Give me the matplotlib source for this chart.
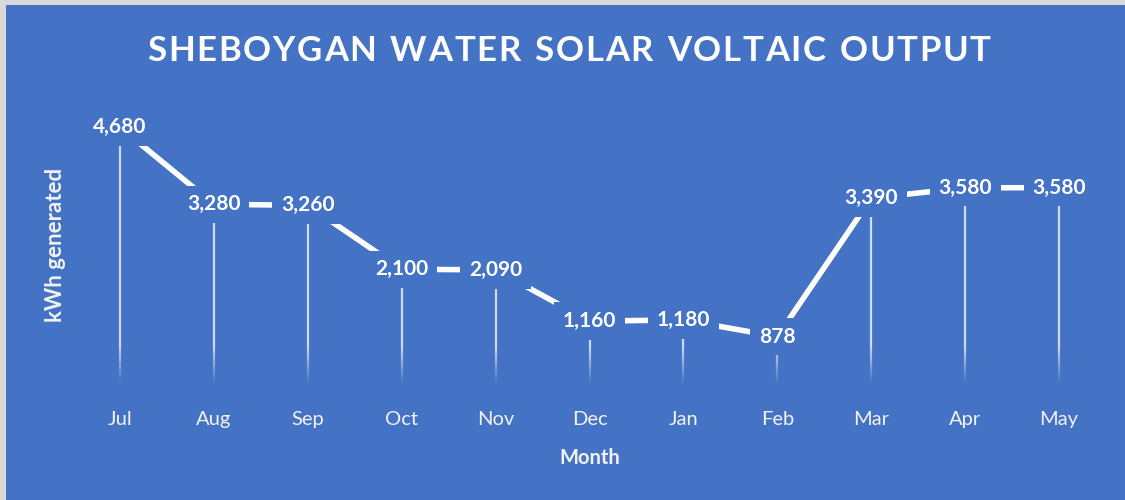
import numpy as np
import matplotlib.pyplot as plt
from matplotlib.collections import LineCollection

months = ['Jul', 'Aug', 'Sep', 'Oct', 'Nov', 'Dec', 'Jan', 'Feb', 'Mar', 'Apr', 'May']
kwh = [4680, 3280, 3260, 2100, 2090, 1160, 1180, 878, 3390, 3580, 3580]

bg = '#4472C4'
plt.rcParams['font.family'] = ['Lato', 'DejaVu Sans']

fig = plt.figure(figsize=(11.25, 5), dpi=100, facecolor='#d9d9d9')
# blue chart area (thin grey frame on left/top like the original screenshot)
fig.patches.append(plt.Rectangle((6 / 1125, 0), 1, 495 / 500, transform=fig.transFigure,
                                 facecolor=bg, edgecolor='none', zorder=-5))

ax = fig.add_axes([73 / 1125, 115 / 500, 1033 / 1125, 275.5 / 500])
ax.set_facecolor('none')
x = np.arange(len(months))
ax.set_xlim(-0.5, len(months) - 0.5)
ax.set_ylim(0, 5000)

# drop lines fading out towards the bottom
fade = 700
for xi, v in zip(x, kwh):
    ys = np.linspace(0, v, 60)
    segs = [[(xi, ys[i]), (xi, ys[i + 1])] for i in range(len(ys) - 1)]
    alphas = np.clip(ys[:-1] / fade, 0, 1) * 0.75
    cols = [(1, 1, 1, a) for a in alphas]
    ax.add_collection(LineCollection(segs, colors=cols, linewidths=1.6, zorder=1))

ax.plot(x, kwh, color='white', lw=4, solid_capstyle='butt', zorder=2)

for xi, v in zip(x, kwh):
    ax.text(xi, v, f'{v:,}', ha='center', va='center', color='white', fontsize=15,
            fontweight='bold', zorder=3,
            bbox=dict(boxstyle='square,pad=0.42', facecolor=bg, edgecolor='none'))

ax.set_xticks(x, months)
ax.set_yticks([])
ax.tick_params(axis='x', length=0, pad=19, labelsize=14.5, labelcolor='#f2f2f2')
for s in ax.spines.values():
    s.set_visible(False)
ax.set_xlabel('Month', fontsize=14.5, fontweight='bold', color='#f2f2f2', labelpad=14)
fig.text(55 / 1125, 1 - 245 / 500, 'kWh generated', rotation=90, ha='center', va='center',
         fontsize=16, fontweight='bold', color='#f2f2f2')

# title with letter spacing
title = 'SHEBOYGAN WATER SOLAR VOLTAIC OUTPUT'
spacing = 1.7
renderer = fig.canvas.get_renderer()
widths = []
for ch in title:
    t = fig.text(0, 0, ch if ch != ' ' else 'I', fontsize=25, fontweight='bold')
    widths.append(t.get_window_extent(renderer).width)
    t.remove()
total = sum(widths) + spacing * (len(title) - 1)
xpos = 569 - total / 2
for ch, w in zip(title, widths):
    if ch != ' ':
        fig.text(xpos / 1125, 1 - 51 / 500, ch, fontsize=25, fontweight='bold',
                 color='white', ha='left', va='center')
    xpos += w + spacing

plt.savefig('out.png', dpi=100, facecolor=fig.get_facecolor())
plt.close()
